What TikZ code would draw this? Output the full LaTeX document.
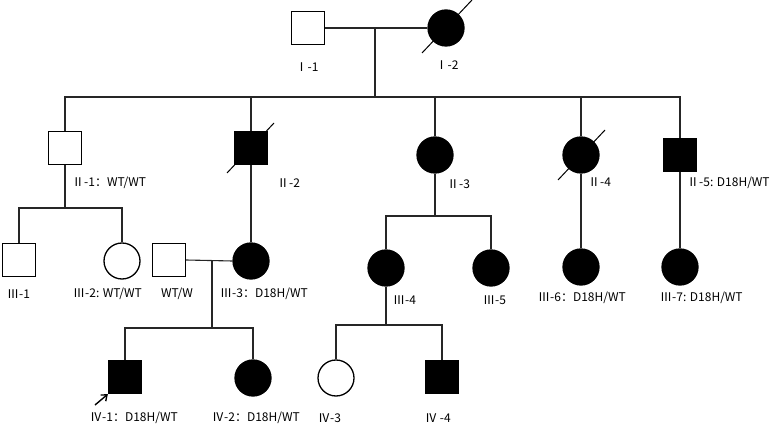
\documentclass[tikz,border=0pt]{standalone}
\usepackage{fontspec}
\setmainfont{Noto Sans CJK SC}
\usetikzlibrary{arrows.meta}
\begin{document}
\begin{tikzpicture}[x=1pt,y=-1pt,
  line/.style={line width=1.1pt,draw=black!85},
  male/.style={rectangle,draw,line width=1.3pt,minimum size=33pt,inner sep=0pt,fill=white},
  female/.style={circle,draw,line width=1.3pt,minimum size=36pt,inner sep=0pt,fill=white},
  aff/.style={fill=black},
  lbl/.style={font=\fontsize{12}{14}\selectfont,inner sep=0pt,anchor=west,text=black},
  clbl/.style={font=\fontsize{12}{14}\selectfont,inner sep=0pt,text=black},
  dead/.style={line width=1pt}]
\useasboundingbox (0,0) rectangle (778,427);
% Generation I
\node[male] (I1) at (308,28) {};
\node[female,aff] (I2) at (446,28) {};
\coordinate (m1) at (375,28);
\coordinate (s1) at (375,97);
% Generation II
\node[male] (II1) at (65,148) {};
\node[male,aff] (II2) at (251,148) {};
\node[female,aff] (II3) at (435,155) {};
\node[female,aff] (II4) at (581,155) {};
\node[male,aff] (II5) at (680,155) {};
% Generation III
\node[male] (III1) at (19,260) {};
\node[female] (III2) at (122,261) {};
\node[male] (WTW) at (169,260) {};
\node[female,aff] (III3) at (251,261) {};
\node[female,aff] (III4) at (386,268) {};
\node[female,aff] (III5) at (491,268) {};
\node[female,aff] (III6) at (581,267) {};
\node[female,aff] (III7) at (680,267) {};
% Generation IV
\node[male,aff] (IV1) at (125,377) {};
\node[female,aff] (IV2) at (253,378) {};
\node[female] (IV3) at (336,378) {};
\node[male,aff] (IV4) at (442,377) {};
% junctions
\coordinate (s2) at (65,208);
\coordinate (m3) at (212,261);
\coordinate (s3) at (212,328);
\coordinate (s4) at (435,216);
\coordinate (s5) at (386,325);
% connectors
\draw[line] (I1.east) -- (I2.west);
\draw[line] (m1) -- (s1);
\draw[line] (II1.north) |- (s1) -| (II5.north);
\draw[line] (II2.north) -- (II2.north |- s1);
\draw[line] (II3.north) -- (II3.north |- s1);
\draw[line] (II4.north) -- (II4.north |- s1);
\draw[line] (II1.south) -- (s2);
\draw[line] (III1.north) |- (s2) -| (III2.north);
\draw[line] (II2.south) -- (III3.north);
\draw[line] (WTW.east) -- (III3.west);
\draw[line] (m3) -- (s3);
\draw[line] (IV1.north) |- (s3) -| (IV2.north);
\draw[line] (II3.south) -- (s4);
\draw[line] (III4.north) |- (s4) -| (III5.north);
\draw[line] (III4.south) -- (s5);
\draw[line] (IV3.north) |- (s5) -| (IV4.north);
\draw[line] (II4.south) -- (III6.north);
\draw[line] (II5.south) -- (III7.north);
% deceased slashes
\draw[dead] ([shift={(-24,25)}]I2.center) -- ([shift={(26,-28)}]I2.center);
\draw[dead] ([shift={(-24,25)}]II2.center) -- ([shift={(23,-25)}]II2.center);
\draw[dead] ([shift={(-23,25)}]II4.center) -- ([shift={(24,-25)}]II4.center);
% proband arrow
\coordinate (pa) at (95,405);
\draw[line width=1.4pt,-{Straight Barb[length=5pt,width=8pt]}] (pa) -- (IV1.south west);
% labels
\node[clbl] (tI1) at (307,67) {Ⅰ-1};
\node[clbl] (tI2) at (447,65) {Ⅰ-2};
\node[lbl] (tII1) at (72,183) {Ⅱ-1：WT/WT};
\node[lbl] (tII2) at (277,183) {Ⅱ-2};
\node[lbl] (tII3) at (447,184) {Ⅱ-3};
\node[lbl] (tII4) at (588,182) {Ⅱ-4};
\node[lbl] (tII5) at (687,183) {Ⅱ-5: D18H/WT};
\node[lbl] (tIII1) at (7,294) {Ⅲ-1};
\node[lbl] (tIII2) at (73,294) {Ⅲ-2: WT/WT};
\node[lbl] (tWTW) at (161,294) {WT/W};
\node[lbl] (tIII3) at (220,294) {Ⅲ-3：D18H/WT};
\node[lbl] (tIII4) at (393,300) {Ⅲ-4};
\node[lbl] (tIII5) at (483,300) {Ⅲ-5};
\node[lbl] (tIII6) at (538,298) {Ⅲ-6：D18H/WT};
\node[lbl] (tIII7) at (660,298) {Ⅲ-7: D18H/WT};
\node[lbl] (tIV1) at (90,418) {Ⅳ-1：D18H/WT};
\node[lbl] (tIV2) at (212,418) {Ⅳ-2：D18H/WT};
\node[lbl] (tIV3) at (318,418) {Ⅳ-3};
\node[lbl] (tIV4) at (425,418) {Ⅳ -4};
\end{tikzpicture}
\end{document}
